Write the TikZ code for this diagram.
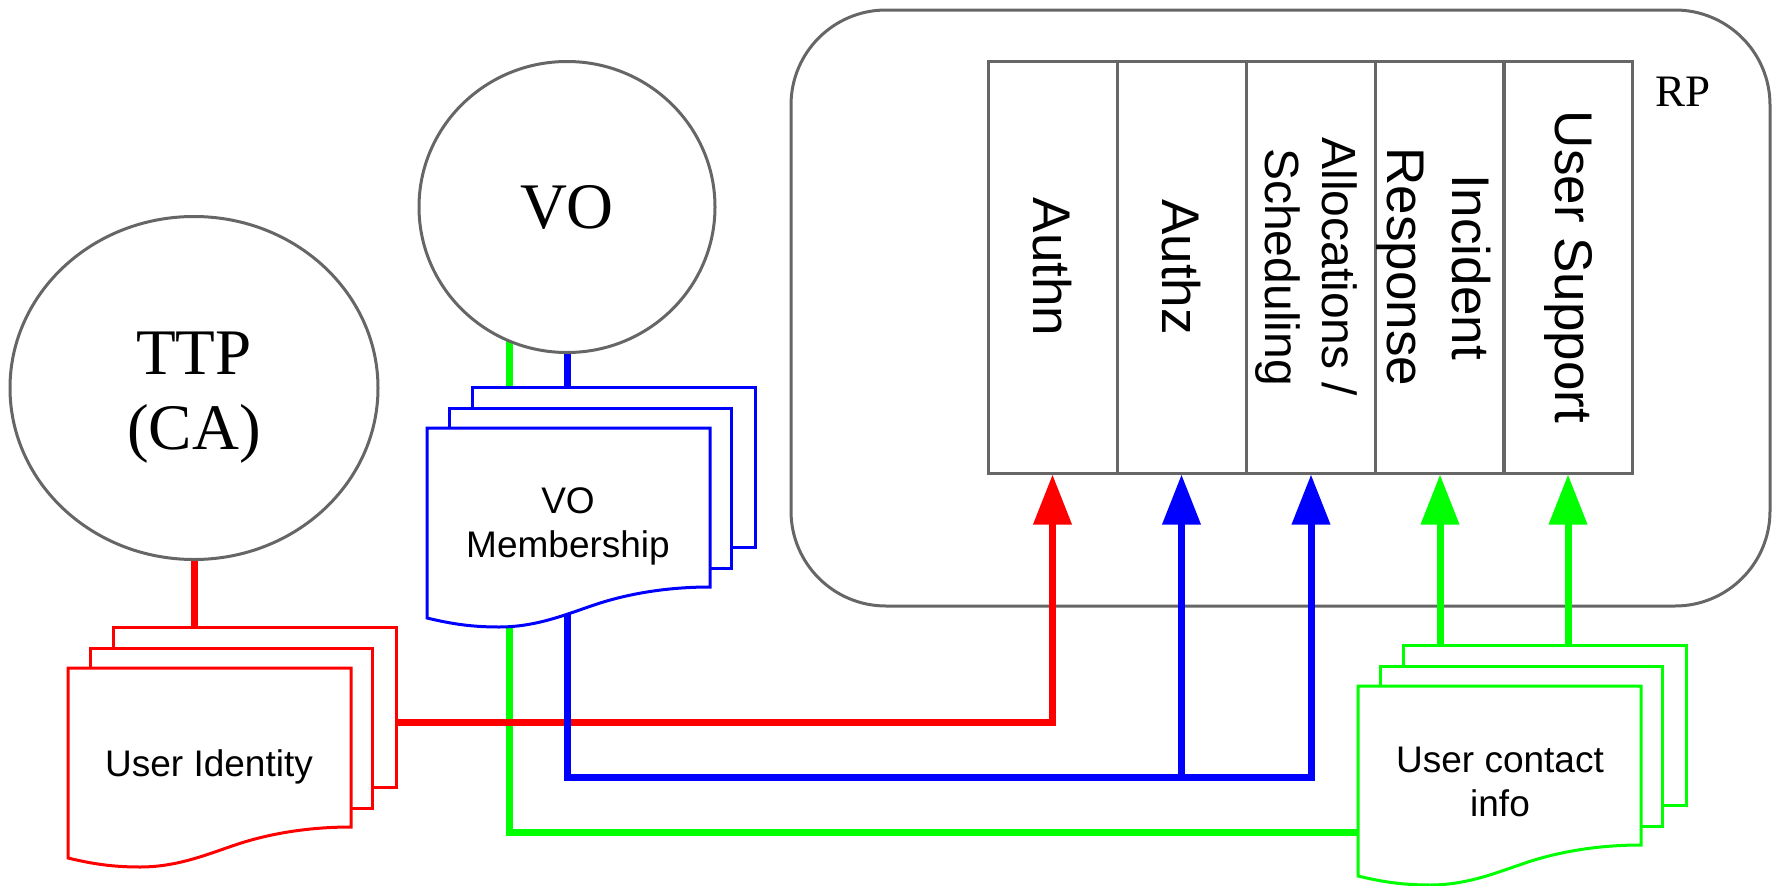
\documentclass[tikz,border=0pt]{standalone}
\usepackage{fontspec}
\setmainfont{Liberation Serif}
\newfontfamily\arialf{Liberation Sans}
\usetikzlibrary{shapes.geometric,arrows.meta}
\definecolor{gryline}{HTML}{666666}
\definecolor{rd}{HTML}{FF0000}
\definecolor{bl}{HTML}{0000FF}
\definecolor{gn}{HTML}{00FF00}
\tikzset{
  outline/.style={draw=gryline, line width=3pt},
  colbox/.style={outline, minimum width=129pt, minimum height=412pt, inner sep=0pt},
  collabel/.style={rotate=-90, align=center, inner sep=0pt, font={\arialf\fontsize{53pt}{65pt}\selectfont}},
  docline/.style={draw=#1, fill=white, line width=3pt},
  doctext/.style={align=center, inner sep=0pt, font={\arialf\fontsize{37pt}{44pt}\selectfont}},
  conn/.style={line width=7pt},
  tip/.style={-{Triangle[length=50pt,width=37pt]}},
  bigserif/.style={align=center, inner sep=0pt, font={\fontsize{65pt}{75pt}\selectfont}}
}
\newcommand\DocStack[3]{%
  \draw[docline=#3] ({#1+45},{#2-41}) rectangle ({#1+328},{#2+119});
  \draw[docline=#3] ({#1+22},{#2-20}) rectangle ({#1+304},{#2+140});
  \draw[docline=#3] (#1,#2) -- ({#1+283},#2) -- ({#1+283},{#2+159})
     .. controls ({#1+250},{#2+159}) and ({#1+210},{#2+163}) .. ({#1+170},{#2+176})
     .. controls ({#1+140},{#2+186}) and ({#1+110},{#2+199}) .. ({#1+72},{#2+199})
     .. controls ({#1+45},{#2+199}) and ({#1+25},{#2+196}) .. (#1,{#2+190}) -- cycle;
}
\begin{document}
\begin{tikzpicture}[x=1pt,y=-1pt]
\useasboundingbox (0,0) rectangle (1775,886);

% RP container
\node[outline, rounded corners=95pt, minimum width=979pt, minimum height=596pt, inner sep=0pt] (rp) at (1280.5,308) {};
\node[inner sep=0pt, font={\fontsize{45pt}{54pt}\selectfont}] (rplabel) at (1683,92) {RP};

% columns
\node[colbox] (c1) at (1052.5,267) {};
\node[colbox] (c2) at (1181.5,267) {};
\node[colbox] (c3) at (1311,267) {};
\node[colbox] (c4) at (1440,267) {};
\node[colbox] (c5) at (1568,267) {};
\node[collabel] (l1) at (c1) {Authn};
\node[collabel] (l2) at (c2) {Authz};
\node[collabel, font={\arialf\fontsize{48pt}{57pt}\selectfont}] (l3) at (1306,267) {Allocations /\\Scheduling};
\node[collabel] (l4) at (1434,267) {Incident\\Response};
\node[collabel] (l5) at (c5) {User Support};

% ellipses (placed now, drawn later on top)
\path (194,388) coordinate (ttpc);
\path (567,207) coordinate (voc);
\node[ellipse, minimum width=368pt, minimum height=343pt, inner sep=0pt] (ttp) at (ttpc) {};
\node[ellipse, minimum width=296pt, minimum height=291pt, inner sep=0pt] (vo) at (voc) {};

% text anchors of documents
\coordinate (contact) at (1500,782);
\coordinate (gend) at (1358,832);
\coordinate (rcorner) at (1052.5,722);
\coordinate (bcorner) at (1311,777);

% connectors
\draw[conn, gn] (vo.247) |- (gend);
\draw[conn, gn, tip] (c4.south |- contact) -- (c4.south);
\draw[conn, gn, tip] (c5.south |- contact) -- (c5.south);
\draw[conn, rd, tip] (ttp.south) |- (rcorner) -- (c1.south);
\draw[conn, bl, tip] (vo.south) |- (bcorner) -- (c3.south);
\draw[conn, bl, tip] (c2.south |- bcorner) -- (c2.south);

% document stacks
\DocStack{68}{668}{rd}
\DocStack{427}{428}{bl}
\DocStack{1358}{686}{gn}
\node[doctext] (uid) at (209,767) {User Identity};
\node[doctext] (vomem) at (568,526) {VO\\Membership};
\node[doctext] (contactinfo) at (contact) {User contact\\info};

% ellipses on top
\node[ellipse, outline, fill=white, minimum width=368pt, minimum height=343pt, inner sep=0pt] (ttpshape) at (ttpc) {};
\node[bigserif] (ttplabel) at (194,398) {TTP\\(CA)};
\node[ellipse, outline, fill=white, minimum width=296pt, minimum height=291pt, inner sep=0pt, font={\fontsize{65pt}{75pt}\selectfont}] (voshape) at (voc) {VO};
\end{tikzpicture}
\end{document}
